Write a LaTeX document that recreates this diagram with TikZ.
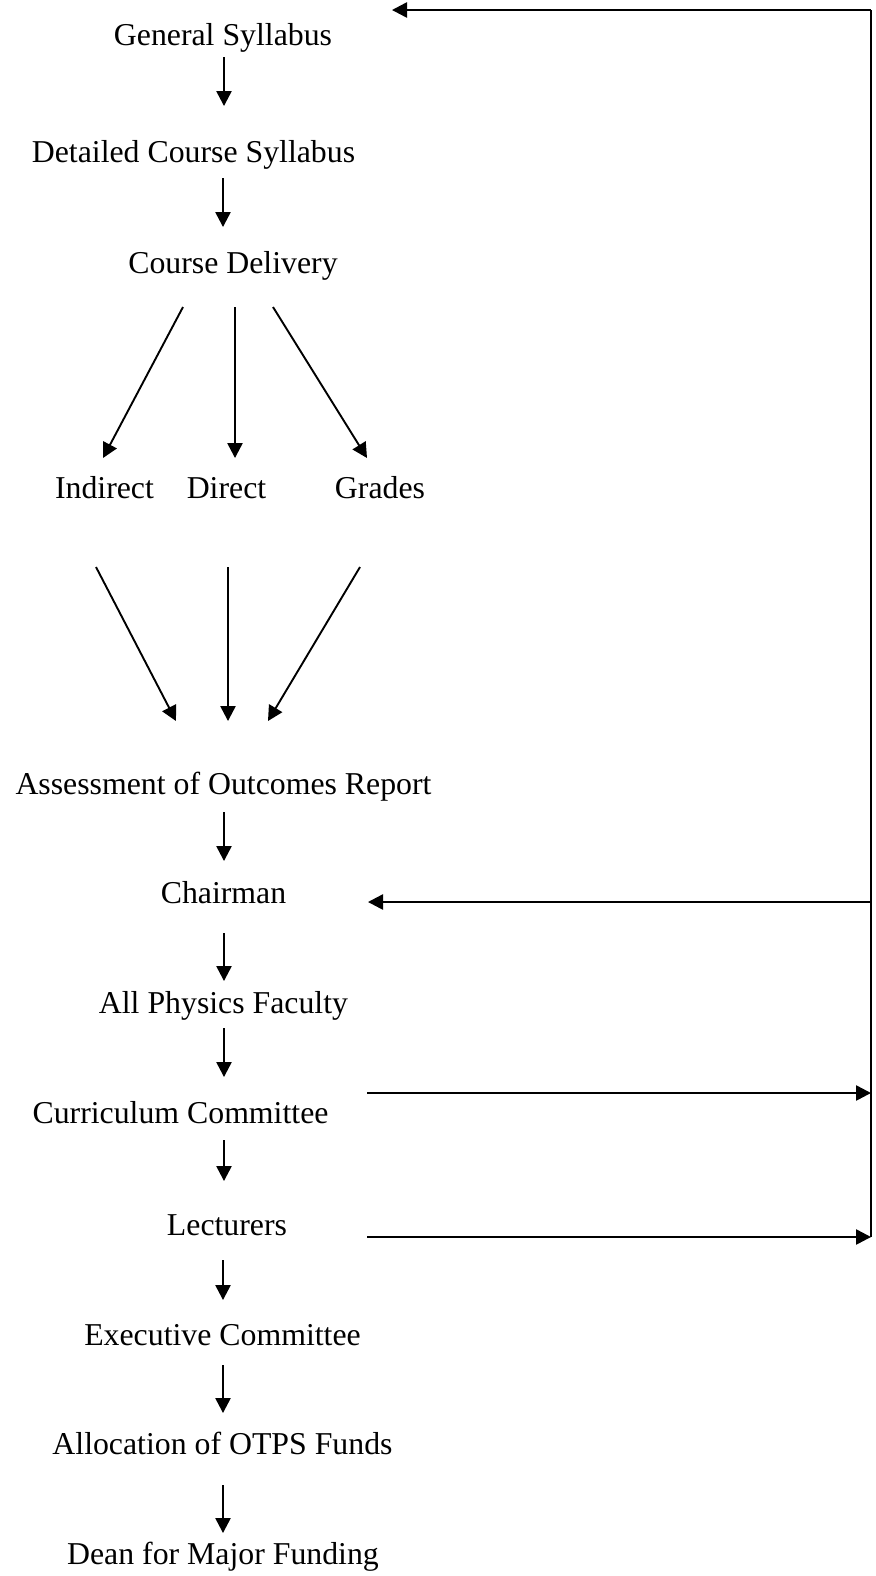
\documentclass[tikz,border=0pt]{standalone}
\usepackage{fontspec}
\setmainfont{Liberation Serif}
\usetikzlibrary{arrows.meta}
\begin{document}
\begin{tikzpicture}[x=0.5pt,y=-0.5pt,
  lbl/.style={anchor=base,inner sep=0pt,font=\fontsize{15.9}{19}\selectfont},
  conn/.style={line width=0.95pt,-{Triangle[length=7.5pt,width=7.6pt]}},
  plain/.style={line width=1pt}]
\useasboundingbox (0,0) rectangle (876,1576);
% texts
\node[lbl] (gs) at (223,45) {General Syllabus};
\node[lbl] (dcs) at (193.5,162) {Detailed Course Syllabus};
\node[lbl] (cd) at (233,273) {Course Delivery};
\node[lbl] (ind) at (104.5,498) {Indirect};
\node[lbl] (dir) at (226.5,498) {Direct};
\node[lbl] (gr) at (380,498) {Grades};
\node[lbl] (aor) at (223.5,794) {Assessment of Outcomes Report};
\node[lbl] (ch) at (223.5,903) {Chairman};
\node[lbl] (apf) at (223.5,1013) {All Physics Faculty};
\node[lbl] (cc) at (180.5,1123) {Curriculum Committee};
\node[lbl] (lec) at (227,1235) {Lecturers};
\node[lbl] (ec) at (222.5,1345) {Executive Committee};
\node[lbl] (al) at (222.5,1454) {Allocation of OTPS Funds};
\node[lbl] (dean) at (223,1564) {Dean for Major Funding};
% arrow end points
\coordinate (a1s) at (224,57);   \coordinate (a1e) at (224,106);
\coordinate (a2s) at (223,178);  \coordinate (a2e) at (223,227);
\coordinate (f1s) at (183,307);  \coordinate (f1e) at (103,458);
\coordinate (f2s) at (235,307);  \coordinate (f2e) at (235,458);
\coordinate (f3s) at (273,307);  \coordinate (f3e) at (367,458);
\coordinate (g1s) at (96,567);   \coordinate (g1e) at (176,721);
\coordinate (g2s) at (228,567);  \coordinate (g2e) at (228,721);
\coordinate (g3s) at (360,567);  \coordinate (g3e) at (268,721);
\coordinate (a3s) at (224,812);  \coordinate (a3e) at (224,861);
\coordinate (a4s) at (224,933);  \coordinate (a4e) at (224,981);
\coordinate (a5s) at (224,1028); \coordinate (a5e) at (224,1077);
\coordinate (a6s) at (224,1140); \coordinate (a6e) at (224,1181);
\coordinate (a7s) at (223,1260); \coordinate (a7e) at (223,1300);
\coordinate (a8s) at (223,1365); \coordinate (a8e) at (223,1413);
\coordinate (a9s) at (223,1485); \coordinate (a9e) at (223,1533);
% feedback loop
\coordinate (rtop) at (871,10);
\coordinate (rch) at (871,902);
\coordinate (rcc) at (871,1093);
\coordinate (rlec) at (871,1237);
\coordinate (gstip) at (392,10);
\coordinate (chtip) at (368,902);
\coordinate (ccs) at (367,1093);
\coordinate (lecs) at (367,1237);
% draw
\foreach \p in {a1,a2,f1,f2,f3,g1,g2,g3,a3,a4,a5,a6,a7,a8,a9}
  \draw[conn] (\p s) -- (\p e);
\draw[plain] (rlec) -- (rtop);
\draw[conn] (rtop) -- (gstip);
\draw[conn] (rch) -- (chtip);
\draw[conn] (ccs) -- (rcc);
\draw[conn] (lecs) -- (rlec);
\end{tikzpicture}
\end{document}
